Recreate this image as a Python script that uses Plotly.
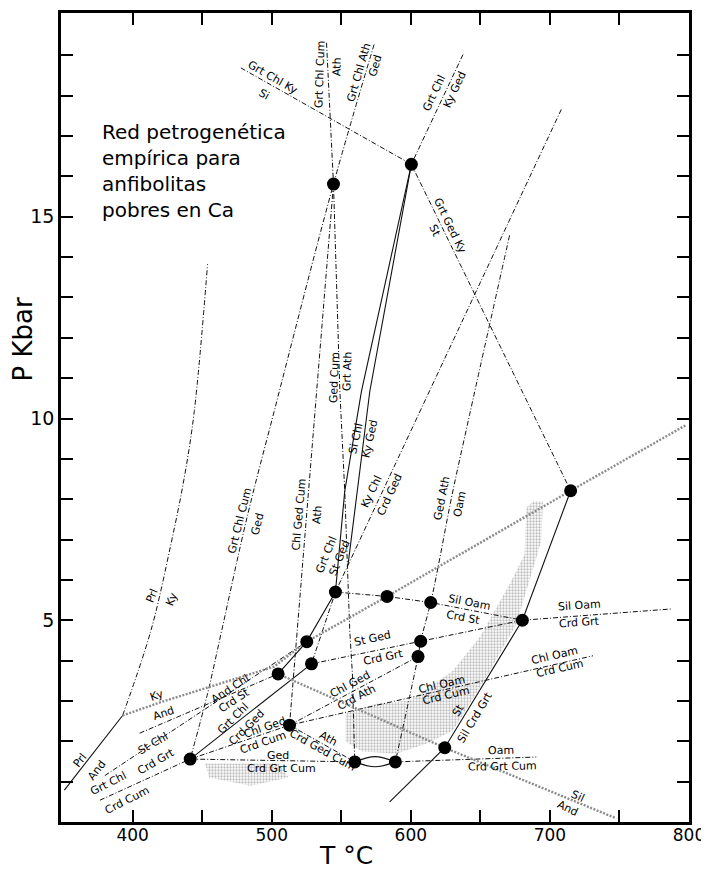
import plotly.graph_objects as go

# ---------------- invariant points (T in °C, P in kbar) ----------------
pt_T = [544.4, 600.4, 441.4, 512.8, 504.6, 525.2, 528.6, 545.8, 559.7,
        582.9, 614.3, 680.2, 607.1, 605.2, 714.9, 624.4, 588.9]
pt_P = [15.81, 16.30, 1.56, 2.40, 3.67, 4.47, 3.92, 5.70, 1.49,
        5.59, 5.44, 5.00, 4.48, 4.10, 8.21, 1.84, 1.49]

# ---------------- univariant curves ----------------
grt_chl_ky_si_T = [477.8, 600.4]
grt_chl_ky_si_P = [18.69, 16.30]
grt_chl_cum_ath_T = [539.4, 544.4]
grt_chl_cum_ath_P = [19.31, 15.81]
grt_chl_ged_T = [573.6, 544.4, 501.7, 482.6, 464.0, 454.0, 441.4]
grt_chl_ged_P = [19.27, 15.81, 10.17, 7.6, 4.74, 3.2, 1.56]
ged_cum_grt_ath_T = [544.4, 549.0, 552.5, 556.1, 558.0, 559.7]
ged_cum_grt_ath_P = [15.81, 10.67, 8.2, 4.74, 3.67, 1.49]
chl_ged_cum_ath_T = [544.4, 512.8]
chl_ged_cum_ath_P = [15.81, 2.40]
grt_chl_ky_ged_T = [637.5, 600.4]
grt_chl_ky_ged_P = [19.02, 16.30]
si_chl_ky_ged_T = [600.4, 570.5, 554.9]
si_chl_ky_ged_P = [16.30, 10.67, 6.39]
grt_chl_st_ged_T = [600.4, 564.5, 552.5, 545.8, 525.2, 504.6]
grt_chl_st_ged_P = [16.30, 10.67, 8.2, 5.70, 4.47, 3.67]
ky_chl_crd_ged_T = [708.2, 554.9, 545.8, 528.6]
ky_chl_crd_ged_P = [17.66, 6.39, 5.70, 3.92]
grt_chl_crd_ged_T = [441.4, 528.6]
grt_chl_crd_ged_P = [1.56, 3.92]
ged_ath_oam_T = [671.0, 642.3, 629.2, 619.5, 614.3, 607.1, 605.2, 588.9]
ged_ath_oam_P = [14.54, 10.1, 8.03, 6.3, 5.44, 4.48, 4.10, 1.49]
grt_ged_ky_st_T = [600.4, 714.9]
grt_ged_ky_st_P = [16.30, 8.21]
st_sil_crd_grt_T = [584.8, 624.4, 680.2, 714.9]
st_sil_crd_grt_P = [0.50, 1.84, 5.00, 8.21]
sil_oam_T = [545.8, 582.9, 614.3, 680.2, 787.2]
sil_oam_P = [5.70, 5.59, 5.44, 5.00, 5.28]
st_ged_crd_grt_T = [528.6, 607.1, 680.2]
st_ged_crd_grt_P = [3.92, 4.48, 5.00]
chl_ged_crd_ath_T = [512.8, 605.2]
chl_ged_crd_ath_P = [2.40, 4.10]
chl_oam_crd_cum_T = [512.8, 731.0]
chl_oam_crd_cum_P = [2.40, 4.12]
chl_ged_crd_cum_T = [441.4, 512.8]
chl_ged_crd_cum_P = [1.56, 2.40]
ath_crd_ged_cum_T = [512.8, 559.7]
ath_crd_ged_cum_P = [2.40, 1.49]
ged_crd_grt_cum_T = [441.4, 559.7]
ged_crd_grt_cum_P = [1.56, 1.49]
loop_up_T = [559.7, 574.3, 588.9]
loop_up_P = [1.49, 1.62, 1.49]
loop_lo_T = [559.7, 574.3, 588.9]
loop_lo_P = [1.49, 1.37, 1.49]
oam_crd_grt_cum_T = [588.9, 690.2]
oam_crd_grt_cum_P = [1.49, 1.61]
grt_chl_crd_cum_T = [376.5, 441.4]
grt_chl_crd_cum_P = [0.54, 1.56]
st_chl_crd_grt_T = [380.0, 525.2]
st_chl_crd_grt_P = [1.15, 4.47]
and_chl_crd_st_T = [405.0, 504.6]
and_chl_crd_st_P = [2.2, 3.67]
prl_and_T = [350.9, 392.8]
prl_and_P = [0.79, 2.64]
prl_ky_T = [392.8, 413.1, 427.5, 437.1, 444.3, 453.9]
prl_ky_P = [2.64, 4.74, 6.88, 8.53, 10.17, 13.83]
# Al2SiO5 curves
ky_and_T = [392.8, 420.3, 501.7, 525.2]
ky_and_P = [2.64, 2.97, 3.85, 4.47]
ky_sil_T = [525.2, 582.9, 714.9, 798.0]
ky_sil_P = [4.47, 5.59, 8.21, 9.84]
sil_and_T = [504.6, 624.4, 747.7]
sil_and_P = [3.67, 1.84, 0.09]

# shaded fields
shade_T = [688.0, 695.0, 693.8, 683.0, 675.9, 654.3, 630.3, 611.2, 590.0, 565.0,
           553.0, 553.0, 575.3, 599.2, 630.3, 649.5, 671.0, 681.8, 683.0]
shade_P = [7.95, 7.95, 6.96, 5.73, 4.91, 3.59, 2.27, 1.94, 1.70, 1.75,
           2.0, 2.7, 2.93, 3.01, 3.75, 4.58, 5.89, 6.63, 7.79]
shade2_T = [452.0, 505.0, 512.0, 485.0, 455.0]
shade2_P = [1.45, 1.45, 1.1, 0.9, 1.1]

# labels: text, T, P, angle
label_text = ["Grt Chl Ky", "Si", "Grt Chl Cum", "Ath", "Grt Chl Ath", "Ged",
              "Grt Chl", "Ky Ged", "Grt Ged Ky", "St", "Prl", "Ky", "Ky", "And",
              "Prl", "And", "Grt Chl", "Crd Cum", "St Chl", "Crd Grt",
              "And Chl", "Crd St", "Grt Chl", "Crd Ged", "Chl Ged", "Crd Cum",
              "Ged", "Crd Grt Cum", "Ath", "Crd Ged Cum", "Chl Ged", "Crd Ath",
              "St Ged", "Crd Grt", "Grt Chl", "St Ged", "Si Chl", "Ky Ged",
              "Ky Chl", "Crd Ged", "Ged Cum", "Grt Ath", "Grt Chl Cum", "Ged",
              "Chl Ged Cum", "Ath", "Ged Ath", "Oam", "Sil Oam", "Crd St",
              "Sil Oam", "Crd Grt", "Chl Oam", "Crd Cum", "Chl Oam", "Crd Cum",
              "St", "Sil Crd Grt", "Oam", "Crd Grt Cum", "Sil", "And"]
label_T = [500.6, 494.5, 534.6, 546.8, 562.8, 574.5,
           617.2, 631.5, 628.0, 617.2, 413.6, 428.0, 417.2, 422.0,
           362.1, 374.1, 382.5, 395.7, 414.8, 417.2,
           470.6, 473.0, 472.3, 481.9, 495.0, 493.8,
           504.6, 507.0, 540.5, 536.9, 556.1, 560.9,
           572.8, 580.0, 539.4, 549.0, 560.4, 570.5,
           571.7, 584.8, 544.8, 554.5, 476.6, 489.8,
           519.7, 532.9, 622.0, 635.1, 642.3, 637.5,
           721.3, 721.3, 703.4, 707.0, 622.0, 625.6,
           633.9, 645.9, 665.1, 666.2, 720.1, 712.9]
label_P = [18.45, 18.03, 18.53, 18.73, 18.57, 18.75,
           18.07, 18.16, 14.78, 14.66, 5.6, 5.52, 3.14, 2.68,
           1.53, 1.28, 0.96, 0.54, 1.94, 1.49,
           3.30, 3.01, 2.56, 2.35, 2.35, 1.98,
           1.65, 1.33, 2.07, 1.78, 3.42, 3.09,
           4.54, 4.08, 6.63, 6.55, 9.51, 9.51,
           8.2, 8.12, 11.0, 11.16, 7.46, 7.37,
           7.62, 7.62, 8.03, 7.87, 5.44, 5.07,
           5.36, 4.95, 4.12, 3.80, 3.42, 3.14,
           2.77, 2.60, 1.78, 1.37, 0.62, 0.34]
label_angle = [30, 30, -88, -88, -74, -74,
               -65, -65, 64, 64, -68, -68, -19, -19,
               -52, -52, -27, -27, -30, -30,
               -33, -33, -45, -45, -19, -19,
               0, 0, 29, 29, -28, -28,
               -12, -12, -68, -68, -78, -78,
               -65, -65, -88, -88, -76, -76,
               -85, -85, -79, -79, 11, 11,
               -4, -4, -13, -13, -13, -13,
               -59, -59, -1, -1, 25, 25]

x_ticks = [400, 500, 600, 700, 800]
x_minor = [450, 550, 650, 750]
y_ticks = [5, 10, 15]
y_minor = [1, 2, 3, 4, 6, 7, 8, 9, 11, 12, 13, 14, 16, 17, 18, 19]

FONT = "DejaVu Sans"
DASH = dict(color="#111111", width=1.0, dash="5px,2px,1px,2px")
SOLID = dict(color="#111111", width=1.1)
GRAY = dict(color="#8c8c8c", width=2.4, dash="2px,1.5px")

fig = go.Figure()

# shaded fields
for sx, sy in [(shade_T, shade_P), (shade2_T, shade2_P)]:
    fig.add_trace(go.Scatter(
        x=sx, y=sy, mode="lines", fill="toself", line=dict(width=0),
        fillcolor="rgba(255,255,255,0)",
        fillpattern=dict(shape=".", fgcolor="#7a7a7a", size=3, solidity=0.45),
        hoverinfo="skip", showlegend=False))

curves = [
    (grt_chl_ky_si_T, grt_chl_ky_si_P, DASH, "linear"),
    (grt_chl_cum_ath_T, grt_chl_cum_ath_P, DASH, "linear"),
    (grt_chl_ged_T, grt_chl_ged_P, DASH, "spline"),
    (ged_cum_grt_ath_T, ged_cum_grt_ath_P, DASH, "linear"),
    (chl_ged_cum_ath_T, chl_ged_cum_ath_P, DASH, "linear"),
    (grt_chl_ky_ged_T, grt_chl_ky_ged_P, DASH, "linear"),
    (si_chl_ky_ged_T, si_chl_ky_ged_P, SOLID, "linear"),
    (grt_chl_st_ged_T, grt_chl_st_ged_P, SOLID, "linear"),
    (ky_chl_crd_ged_T, ky_chl_crd_ged_P, DASH, "linear"),
    (grt_chl_crd_ged_T, grt_chl_crd_ged_P, SOLID, "linear"),
    (ged_ath_oam_T, ged_ath_oam_P, DASH, "spline"),
    (grt_ged_ky_st_T, grt_ged_ky_st_P, DASH, "linear"),
    (st_sil_crd_grt_T, st_sil_crd_grt_P, SOLID, "linear"),
    (sil_oam_T, sil_oam_P, DASH, "linear"),
    (st_ged_crd_grt_T, st_ged_crd_grt_P, DASH, "linear"),
    (chl_ged_crd_ath_T, chl_ged_crd_ath_P, DASH, "linear"),
    (chl_oam_crd_cum_T, chl_oam_crd_cum_P, DASH, "linear"),
    (chl_ged_crd_cum_T, chl_ged_crd_cum_P, DASH, "linear"),
    (ath_crd_ged_cum_T, ath_crd_ged_cum_P, DASH, "linear"),
    (ged_crd_grt_cum_T, ged_crd_grt_cum_P, DASH, "linear"),
    (loop_up_T, loop_up_P, SOLID, "spline"),
    (loop_lo_T, loop_lo_P, SOLID, "spline"),
    (oam_crd_grt_cum_T, oam_crd_grt_cum_P, DASH, "linear"),
    (grt_chl_crd_cum_T, grt_chl_crd_cum_P, DASH, "linear"),
    (st_chl_crd_grt_T, st_chl_crd_grt_P, DASH, "linear"),
    (and_chl_crd_st_T, and_chl_crd_st_P, DASH, "linear"),
    (prl_and_T, prl_and_P, SOLID, "linear"),
    (prl_ky_T, prl_ky_P, DASH, "spline"),
    (ky_and_T, ky_and_P, GRAY, "linear"),
    (ky_sil_T, ky_sil_P, GRAY, "linear"),
    (sil_and_T, sil_and_P, GRAY, "linear"),
]
for cx, cy, st, shp in curves:
    fig.add_trace(go.Scatter(x=cx, y=cy, mode="lines",
                             line=dict(shape=shp, **st),
                             hoverinfo="skip", showlegend=False))

fig.add_trace(go.Scatter(x=pt_T, y=pt_P, mode="markers",
                         marker=dict(size=13, color="black"),
                         hoverinfo="skip", showlegend=False))

for t, xx, yy, a in zip(label_text, label_T, label_P, label_angle):
    fig.add_annotation(x=xx, y=yy, text=t, textangle=a, showarrow=False,
                       font=dict(family=FONT, size=11, color="black"))

fig.add_annotation(x=376.5, y=17.45, xanchor="left", yanchor="top", align="left",
                   text="Red petrogenética<br>empírica para<br>anfibolitas<br>pobres en Ca",
                   showarrow=False, font=dict(family=FONT, size=20, color="black"))

fig.add_annotation(xref="paper", yref="paper", x=-0.061, y=0.596, text="P Kbar",
                   textangle=-90, showarrow=False, xanchor="center", yanchor="middle",
                   font=dict(family=FONT, size=26, color="black"))
fig.add_annotation(xref="paper", yref="paper", x=0.454, y=-0.042, text="T °C",
                   showarrow=False, xanchor="center", yanchor="middle",
                   font=dict(family=FONT, size=25, color="black"))

axis_common = dict(showgrid=False, zeroline=False, showline=True, linewidth=2.5,
                   linecolor="black", mirror="ticks", ticks="inside", ticklen=12,
                   tickwidth=1.5, tickcolor="black")
fig.update_xaxes(range=[348.5, 800], tickvals=x_ticks, ticklabelstandoff=-4,
                 tickfont=dict(family=FONT, size=17, color="black"),
                 minor=dict(tickvals=x_minor, ticks="inside", ticklen=12,
                            tickwidth=1.5, tickcolor="black"),
                 **axis_common)
fig.update_yaxes(range=[0, 20.05], tickvals=y_ticks,
                 tickfont=dict(family=FONT, size=19, color="black"),
                 minor=dict(tickvals=y_minor, ticks="inside", ticklen=12,
                            tickwidth=1.5, tickcolor="black"),
                 **axis_common)

# the page body adds an 8 px offset; margins compensate so the plot area
# sits at x 61..689, y 10..822 of the window
fig.update_layout(width=709, height=871, margin=dict(l=53, r=28, t=2, b=57),
                  paper_bgcolor="white", plot_bgcolor="white", showlegend=False)

fig.write_html("out.html")
